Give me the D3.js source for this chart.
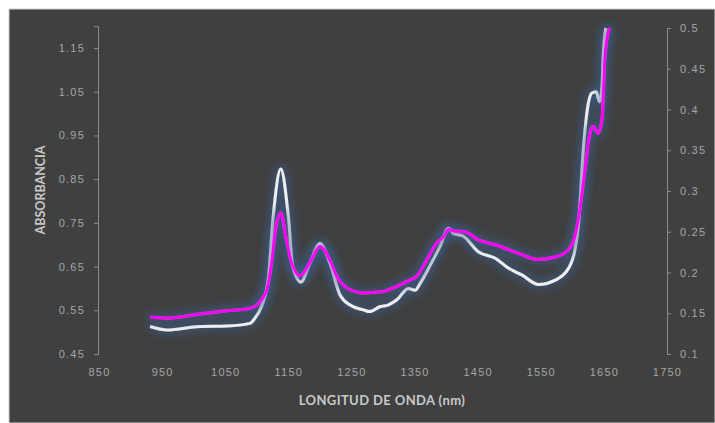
<html>
<head>
<script src="https://d3js.org/d3.v7.min.js"></script>
<style>
  body { margin: 0; background: #fff; }
  svg { display: block; font-family: Lato, "Open Sans", sans-serif; }
  .tick text { fill: #a6a6a6; font-size: 11px; letter-spacing: 1.2px; }
  .axis path, .axis line { stroke: #8c8c8c; }
  .title { fill: #c9c9c9; font-weight: bold; }
</style>
</head>
<body>
<svg id="chart" width="715" height="423"></svg>
<script>
// wavelengths (nm) and absorbance
const waveA = [931, 958, 1010, 1053, 1089, 1097, 1105, 1118, 1126, 1138, 1150, 1157, 1170, 1184, 1200, 1216, 1232, 1248, 1269, 1279, 1295, 1308, 1322, 1340, 1351, 1359, 1375, 1390, 1404, 1411, 1427, 1451, 1478, 1499, 1520, 1546, 1573, 1594, 1604, 1610, 1617, 1623, 1631, 1638, 1643, 1647, 1649, 1653];
const absA = [0.513, 0.505, 0.513, 0.514, 0.520, 0.532, 0.551, 0.619, 0.764, 0.873, 0.764, 0.650, 0.615, 0.657, 0.703, 0.657, 0.585, 0.562, 0.551, 0.547, 0.558, 0.562, 0.574, 0.600, 0.596, 0.612, 0.654, 0.695, 0.738, 0.726, 0.720, 0.684, 0.669, 0.646, 0.631, 0.609, 0.619, 0.646, 0.688, 0.749, 0.909, 1.001, 1.047, 1.050, 1.027, 1.062, 1.134, 1.196];

const waveB = [931, 958, 1010, 1053, 1089, 1105, 1116, 1124, 1129, 1138, 1147, 1155, 1169, 1184, 1200, 1216, 1227, 1243, 1269, 1295, 1322, 1343, 1353, 1369, 1385, 1396, 1404, 1411, 1430, 1451, 1478, 1499, 1520, 1545, 1573, 1594, 1604, 1610, 1620, 1628, 1633, 1641, 1647, 1652, 1659];
const absB = [0.145, 0.144, 0.149, 0.153, 0.156, 0.164, 0.179, 0.215, 0.249, 0.273, 0.240, 0.212, 0.196, 0.212, 0.232, 0.215, 0.195, 0.181, 0.175, 0.176, 0.183, 0.191, 0.195, 0.215, 0.236, 0.244, 0.253, 0.251, 0.250, 0.240, 0.234, 0.228, 0.222, 0.216, 0.219, 0.228, 0.244, 0.267, 0.326, 0.371, 0.379, 0.371, 0.387, 0.469, 0.500];

const xTicks = [850, 950, 1050, 1150, 1250, 1350, 1450, 1550, 1650, 1750];
const leftTicks = [0.45, 0.55, 0.65, 0.75, 0.85, 0.95, 1.05, 1.15];
const rightTicks = [0.1, 0.15, 0.2, 0.25, 0.3, 0.35, 0.4, 0.45, 0.5];

const svg = d3.select("#chart");

// panel
svg.append("rect").attr("x", 9).attr("y", 9).attr("width", 706).attr("height", 414)
   .attr("fill", "#404040").attr("stroke", "#d0d0d0").attr("stroke-width", 1);

const x = d3.scaleLinear().domain([850, 1750]).range([99, 667]);
const yL = d3.scaleLinear().domain([0.45, 1.2]).range([354, 26.2]);
const yR = d3.scaleLinear().domain([0.1, 0.5]).range([354, 28]);

// glow
const defs = svg.append("defs");
const glow = defs.append("filter").attr("id", "glow")
   .attr("x", "-20%").attr("y", "-20%").attr("width", "140%").attr("height", "140%");
glow.append("feMorphology").attr("in", "SourceAlpha").attr("operator", "dilate").attr("radius", 2).attr("result", "d");
glow.append("feGaussianBlur").attr("in", "d").attr("stdDeviation", 5).attr("result", "b");
glow.append("feFlood").attr("flood-color", "#3b5b88").attr("flood-opacity", 0.8);
glow.append("feComposite").attr("in2", "b").attr("operator", "in").attr("result", "g");
const merge = glow.append("feMerge");
merge.append("feMergeNode").attr("in", "g");
merge.append("feMergeNode").attr("in", "SourceGraphic");

// axes
svg.append("g").attr("class", "axis")
   .attr("transform", "translate(98,0)")
   .call(d3.axisLeft(yL).tickValues(leftTicks).tickSizeOuter(0).tickSize(4).tickPadding(9)
         .tickFormat(d3.format(".2f")));

svg.append("g").attr("class", "axis")
   .attr("transform", "translate(667,0)")
   .call(d3.axisRight(yR).tickValues(rightTicks).tickSizeOuter(0).tickSize(4).tickPadding(9)
         .tickFormat(d => String(+d.toFixed(2))));

svg.append("g").attr("class", "axis")
   .attr("transform", "translate(0,354)")
   .call(d3.axisBottom(x).tickValues(xTicks).tickSize(0).tickPadding(14).tickFormat(d3.format("d")))
   .call(g => g.select(".domain").remove());

// lines
const lineA = d3.line().x((d, i) => x(waveA[i])).y(d => yL(d)).curve(d3.curveMonotoneX);
const lineB = d3.line().x((d, i) => x(waveB[i])).y(d => yR(d)).curve(d3.curveMonotoneX);

svg.append("path").datum(absA).attr("d", lineA)
   .attr("fill", "none").attr("stroke", "#eef0f4").attr("stroke-width", 3).attr("filter", "url(#glow)");
svg.append("path").datum(absB).attr("d", lineB)
   .attr("fill", "none").attr("stroke", "#ff00ff").attr("stroke-width", 3).attr("filter", "url(#glow)");

// titles
svg.append("text").attr("class", "title")
   .attr("x", 382).attr("y", 405).attr("text-anchor", "middle").attr("font-size", 13)
   .attr("letter-spacing", 0.4)
   .text("LONGITUD DE ONDA (nm)");
svg.append("text").attr("class", "title")
   .attr("transform", "translate(45,190) rotate(-90)").attr("text-anchor", "middle").attr("font-size", 12.5)
   .text("ABSORBANCIA");
</script>
</body>
</html>
